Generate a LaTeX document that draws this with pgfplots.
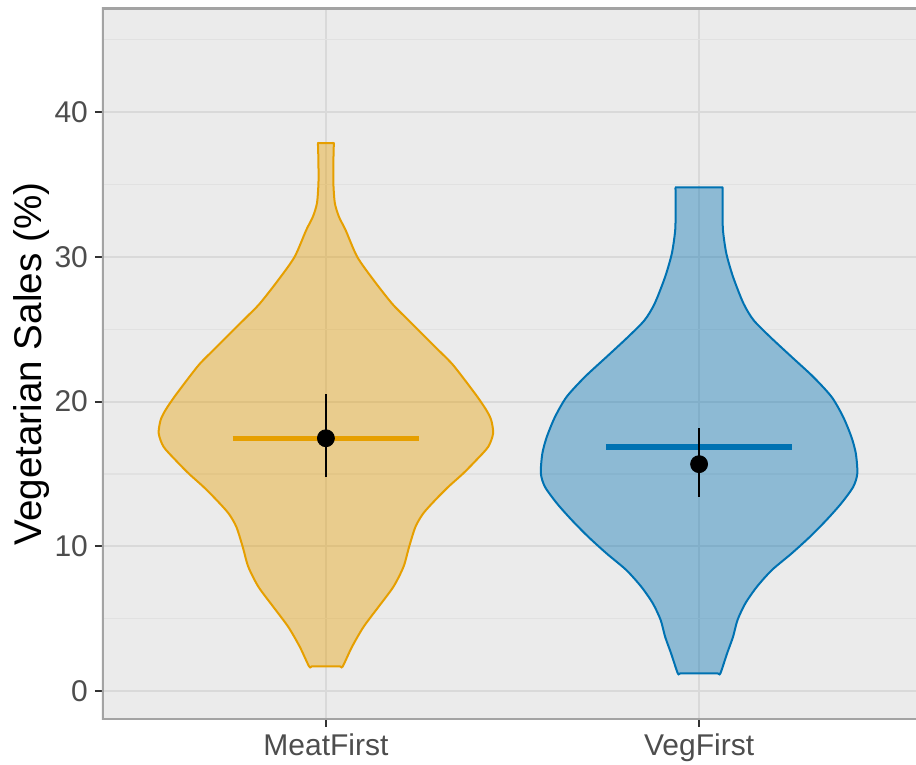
\documentclass[border=0pt]{standalone}
\usepackage{fontspec}
\setmainfont{Liberation Sans}
\usepackage{pgfplots}
\pgfplotsset{compat=1.18}
\usetikzlibrary{calc}
\definecolor{panel}{HTML}{EBEBEB}
\definecolor{gridmaj}{HTML}{D9D9D9}
\definecolor{gridmin}{HTML}{E1E1E1}
\definecolor{framecol}{HTML}{A3A3A3}
\definecolor{ticktxt}{HTML}{4D4D4D}
\definecolor{tickcol}{HTML}{333333}
\definecolor{meat}{HTML}{E69F00}
\definecolor{veg}{HTML}{0072B2}
\begin{document}
\begin{tikzpicture}
\begin{axis}[name=ax, scale only axis, width=410.5pt, height=356pt,
  xmin=0.4, xmax=2.6, ymin=-2, ymax=47.2,
  axis x line*=bottom, axis y line*=left,
  axis line style={draw=none},
  xtick={1,2}, xticklabels={MeatFirst,VegFirst},
  ytick={0,10,20,30,40}, minor ytick={5,15,25,35,45},
  /pgf/number format/assume math mode=true,
  xmajorgrids, ymajorgrids, yminorgrids,
  major grid style={gridmaj, line width=1pt},
  minor grid style={gridmin, line width=0.65pt},
  tick align=outside, major tick length=3.5pt, minor tick length=0pt,
  every tick/.style={tickcol, line width=0.9pt},
  ticklabel style={font=\fontsize{15}{18}\selectfont, text=ticktxt},
  axis background/.style={fill=panel},
  ylabel={Vegetarian Sales (\%)},
  every axis y label/.style={at={(rel axis cs:-0.0633,0.5)}, rotate=90, anchor=south, inner sep=0pt, font=\fontsize{19.3}{23}\selectfont, text=black},
]
% MeatFirst violin
\addplot[draw=meat, line width=1pt, fill=meat, fill opacity=0.4, smooth, tension=0.45] coordinates {
(1.000,1.70) (0.962,1.70) (0.955,1.70) (0.930,3.06) (0.899,4.44) (0.859,5.82) (0.819,7.21) (0.792,8.59) (0.777,9.97) (0.760,11.35) (0.739,12.28) (0.707,13.20) (0.672,14.11) (0.632,15.04) (0.597,15.96) (0.565,16.88) (0.552,17.80) (0.557,18.72) (0.570,19.41) (0.594,20.33) (0.628,21.50) (0.663,22.64) (0.708,23.80) (0.752,24.94) (0.788,25.86) (0.823,26.78) (0.872,28.39) (0.916,30.00) (0.947,31.84) (0.965,32.77) (0.976,33.71) (0.980,35.07) (0.980,36.50) (0.979,37.60) (0.979,37.86) (0.986,37.86)
(1.014,37.86) (1.021,37.86) (1.021,37.60) (1.020,36.50) (1.020,35.07) (1.024,33.71) (1.035,32.77) (1.053,31.84) (1.084,30.00) (1.128,28.39) (1.177,26.78) (1.212,25.86) (1.248,24.94) (1.292,23.80) (1.337,22.64) (1.372,21.50) (1.406,20.33) (1.430,19.41) (1.443,18.72) (1.448,17.80) (1.435,16.88) (1.403,15.96) (1.368,15.04) (1.328,14.11) (1.293,13.20) (1.261,12.28) (1.240,11.35) (1.223,9.97) (1.208,8.59) (1.181,7.21) (1.141,5.82) (1.101,4.44) (1.070,3.06) (1.045,1.70) (1.038,1.70) (1.000,1.70)
};
% VegFirst violin
\addplot[draw=veg, line width=1pt, fill=veg, fill opacity=0.4, smooth, tension=0.45] coordinates {
(2.000,1.22) (1.950,1.22) (1.943,1.22) (1.925,2.60) (1.909,3.75) (1.897,4.91) (1.876,6.06) (1.845,7.21) (1.805,8.36) (1.752,9.51) (1.703,10.66) (1.659,11.81) (1.619,12.97) (1.587,14.11) (1.576,15.04) (1.580,16.42) (1.592,17.57) (1.614,18.95) (1.645,20.33) (1.694,21.71) (1.752,23.09) (1.810,24.48) (1.854,25.63) (1.881,26.78) (1.909,28.62) (1.927,30.24) (1.936,31.85) (1.937,33.30) (1.937,34.55) (1.937,34.80) (1.944,34.80)
(2.056,34.80) (2.063,34.80) (2.063,34.55) (2.063,33.30) (2.064,31.85) (2.073,30.24) (2.091,28.62) (2.119,26.78) (2.146,25.63) (2.190,24.48) (2.248,23.09) (2.306,21.71) (2.355,20.33) (2.386,18.95) (2.408,17.57) (2.420,16.42) (2.424,15.04) (2.413,14.11) (2.381,12.97) (2.341,11.81) (2.297,10.66) (2.248,9.51) (2.195,8.36) (2.155,7.21) (2.124,6.06) (2.103,4.91) (2.091,3.75) (2.075,2.60) (2.057,1.22) (2.050,1.22) (2.000,1.22)
};
% medians
\addplot[meat, line width=2.6pt] coordinates {(0.75,17.47) (1.25,17.47)};
\addplot[veg, line width=2.6pt] coordinates {(1.75,16.86) (2.25,16.86)};
% error bars
\addplot[black, line width=1.3pt] coordinates {(1,14.78) (1,20.50)};
\addplot[black, line width=1.3pt] coordinates {(2,13.42) (2,18.15)};
% means
\addplot[only marks, mark=*, mark size=4.25pt, black] coordinates {(1,17.47) (2,15.68)};
\draw[framecol, line width=1.75pt] (rel axis cs:1,0) -- (rel axis cs:0,0) -- (rel axis cs:0,1) -- (rel axis cs:1,1);
\end{axis}
\pgfresetboundingbox
\useasboundingbox ($(ax.south west)+(-51pt,-22.5pt)$) rectangle ($(ax.south west)+(407pt,360pt)$);
\end{tikzpicture}
\end{document}
